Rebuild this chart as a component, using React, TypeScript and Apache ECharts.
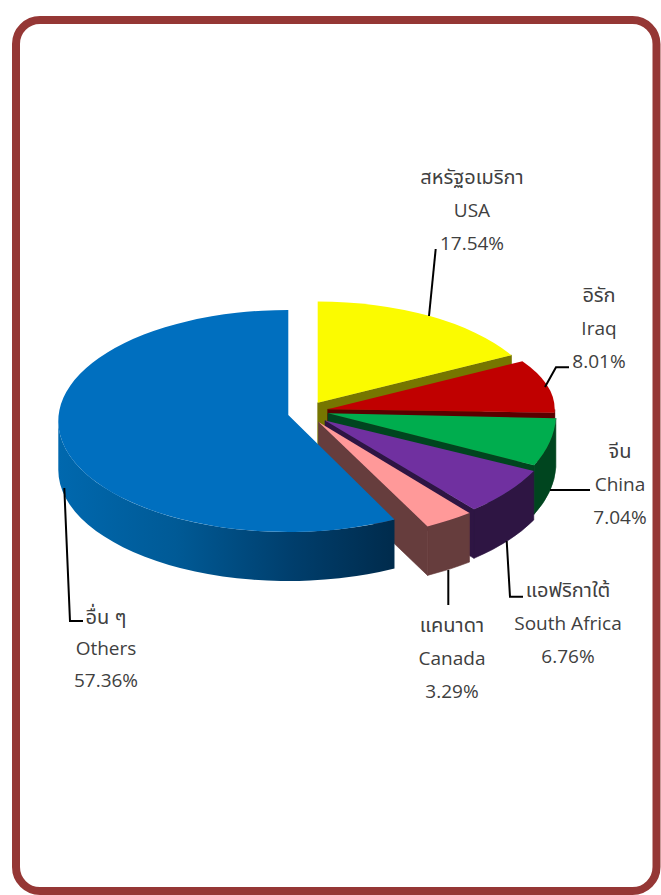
import React, { useEffect, useRef } from "react";
import * as echarts from "echarts";

const namesThai = ["สหรัฐอเมริกา", "อิรัก", "จีน", "แอฟริกาใต้", "แคนาดา", "อื่น ๆ"];
const namesEnglish = ["USA", "Iraq", "China", "South Africa", "Canada", "Others"];
const shares = [17.54, 8.01, 7.04, 6.76, 3.29, 57.36];

const topColors = ["#FBFB00", "#C00000", "#00AD4E", "#7030A0", "#FF9999", "#006FBF"];
const wallColors = ["#767600", "#5A0000", "#00451F", "#2E1543", "#663D3D", "#00304F"];

// Per-slice projection of the exploded 3D pie: apex, ellipse centre and radii,
// and a small perspective correction of the start and end angle (degrees).
const sliceGeometry = [
  { ax: 317.7, ay: 402.7, cx: 317.7, cy: 412, rx: 226, ry: 110.5, d0: 0, d1: -4.1 },
  { ax: 327.7, ay: 409.3, cx: 327.7, cy: 409.5, rx: 227, ry: 94, d0: -4.1, d1: 0 },
  { ax: 328, ay: 413.3, cx: 328, cy: 414, rx: 228, ry: 120, d0: 0, d1: -2 },
  { ax: 325, ay: 420.5, cx: 325, cy: 415, rx: 235, ry: 122, d0: 0, d1: -1 },
  { ax: 318.5, ay: 422, cx: 320, cy: 419, rx: 241, ry: 120, d0: 0, d1: 0 },
  { ax: 288.3, ay: 415, cx: 288.3, cy: 421, rx: 230, ry: 111, d0: -1, d1: 0 },
];
const DEPTH = 49;

const labelLayout = [
  { x: 472, ys: [176, 210, 243] },
  { x: 599, ys: [294, 328, 361] },
  { x: 620, ys: [450, 484, 517] },
  { x: 568, ys: [589, 623, 656] },
  { x: 452, ys: [624, 658, 691] },
  { x: 106, ys: [616, 648, 680] },
];
const leaderLines = [
  [[429, 316], [435.7, 249]],
  [[545, 387], [556, 367.3], [569, 367.3]],
  [[550, 490], [590, 490]],
  [[506.7, 541], [510, 596.7], [523, 596.7]],
  [[448.3, 570], [448.3, 605]],
  [[64.3, 488], [70, 621], [83, 621]],
];

const FONT = '"Open Sans", "Noto Sans", "Noto Sans Thai", "Noto Sans CJK SC", sans-serif';

function pt(g: any, deg: number, dy = 0) {
  const t = (deg * Math.PI) / 180;
  return [g.cx + g.rx * Math.sin(t), g.cy - g.ry * Math.cos(t) + dy];
}

function arcTo(g: any, from: number, to: number, dy = 0) {
  const [x, y] = pt(g, to, dy);
  const large = Math.abs(to - from) > 180 ? 1 : 0;
  return `A ${g.rx} ${g.ry} 0 ${large} ${to > from ? 1 : 0} ${x} ${y}`;
}

const shell = new echarts.graphic.LinearGradient(0, 0, 1, 0, [
  { offset: 0, color: "#0068AE" },
  { offset: 0.35, color: "#005A96" },
  { offset: 0.7, color: "#003E6C" },
  { offset: 1, color: "#002B4C" },
]);

function renderSlice(params: any, api: any) {
  const i = params.dataIndex;
  const g = sliceGeometry[i];
  const before = shares.slice(0, i).reduce((a, b) => a + b, 0);
  const a0 = (before / 100) * 360 + g.d0;
  const a1 = ((before + api.value(1)) / 100) * 360 + g.d1;
  const [sx, sy] = pt(g, a0);
  const [ex, ey] = pt(g, a1);
  const children: any[] = [];
  const isOthers = i === shares.length - 1;

  // Outer rim wall, only where it faces the viewer
  const w0 = Math.max(a0, 90);
  const w1 = Math.min(a1, 270);
  if (w1 > w0) {
    const [ax, ay] = pt(g, w0);
    const [bx, by] = pt(g, w1, DEPTH);
    children.push({
      type: "path",
      shape: { pathData: `M ${ax} ${ay} ${arcTo(g, w0, w1)} L ${bx} ${by} ${arcTo(g, w1, w0, DEPTH)} Z` },
      style: isOthers
        ? { fill: shell }
        : { fill: wallColors[i], stroke: wallColors[i], lineWidth: 0.6 },
    });
  }
  // Radial cut wall on the clockwise edge of the slice
  if (!isOthers) {
    children.push({
      type: "path",
      shape: { pathData: `M ${g.ax} ${g.ay} L ${ex} ${ey} L ${ex} ${ey + DEPTH} L ${g.ax} ${g.ay + DEPTH} Z` },
      style: { fill: wallColors[i], stroke: wallColors[i], lineWidth: 0.6 },
    });
  }
  // Top face
  children.push({
    type: "path",
    shape: { pathData: `M ${g.ax} ${g.ay} L ${sx} ${sy} ${arcTo(g, a0, a1)} Z` },
    style: { fill: topColors[i] },
  });
  return { type: "group", children };
}

function buildOption() {
  const graphic: any[] = [
    {
      type: "rect",
      z: 1,
      shape: { x: 16, y: 20, width: 640.5, height: 871, r: 24 },
      style: { fill: "#FFFFFF", stroke: "#953735", lineWidth: 8 },
    },
  ];
  leaderLines.forEach((points) => {
    graphic.push({
      type: "polyline",
      z: 20,
      shape: { points },
      style: { fill: "none", stroke: "#000000", lineWidth: 2 },
    });
  });
  labelLayout.forEach((l, i) => {
    [namesThai[i], namesEnglish[i], `${shares[i].toFixed(2)}%`].forEach((text, k) => {
      graphic.push({
        type: "text",
        z: 20,
        style: {
          text,
          x: l.x,
          y: l.ys[k],
          fill: "#404040",
          font: `${k === 0 ? 20 : 19}px ${FONT}`,
          align: "center",
          verticalAlign: "middle",
        },
      });
    });
  });
  return {
    animation: false,
    backgroundColor: "#FFFFFF",
    graphic,
    series: [
      {
        type: "custom",
        coordinateSystem: "none",
        z: 5,
        silent: true,
        clip: false,
        renderItem: renderSlice,
        data: shares.map((v, i) => [i, v]),
      },
    ],
  };
}

export default function App() {
  const ref = useRef<HTMLDivElement>(null);
  useEffect(() => {
    document.body.style.margin = "0";
    document.body.style.overflow = "hidden";
    const chart = echarts.init(ref.current!, undefined, { renderer: "svg", width: 661, height: 895 });
    chart.setOption(buildOption());
    return () => chart.dispose();
  }, []);
  return <div ref={ref} style={{ width: 661, height: 895 }} />;
}
